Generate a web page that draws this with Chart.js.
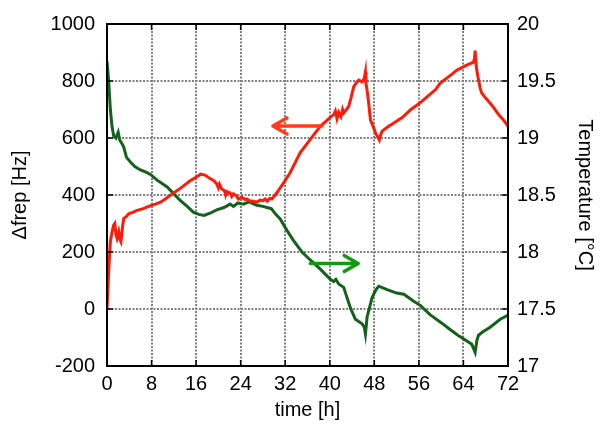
<!DOCTYPE html>
<html>
<head>
<meta charset="utf-8">
<script src="https://cdn.jsdelivr.net/npm/chart.js@4"></script>
<style>
  html, body { margin: 0; padding: 0; background: #fff; }
  #wrap { width: 602px; height: 428px; }
</style>
</head>
<body>
<div id="wrap"><canvas id="freqChart" width="602" height="428"></canvas></div>
<script>
// time [h] and frequency change [Hz] (red, left axis)
const freqTime = [0, 0.3, 0.6, 0.9, 1.2, 1.4, 1.6, 1.8, 2.1, 2.3, 2.5, 2.8, 3.0, 3.5, 3.9, 4.5, 5.4, 6.5, 7.8, 8.7, 9.6, 10.6, 11.7, 12.8, 13.8, 14.8, 15.8, 16.8, 17.6, 18.5, 19.2, 19.7, 20.0, 20.2, 20.6, 21.1, 21.3, 21.5, 22.1, 22.4, 22.7, 23.2, 23.6, 24.2, 24.8, 25.1, 25.6, 26.2, 26.9, 27.5, 28.0, 28.4, 28.8, 29.2, 29.6, 30.2, 30.8, 31.8, 32.9, 34.7, 36.5, 38.3, 39.5, 40.2, 40.7, 41.0, 41.3, 41.6, 42.0, 42.3, 42.5, 43.0, 43.4, 43.8, 44.3, 44.8, 45.2, 45.8, 46.2, 46.4, 46.5, 46.7, 47.0, 47.3, 47.8, 48.2, 48.9, 49.1, 49.4, 50.5, 51.5, 53.0, 54.5, 56.0, 57.5, 59.0, 59.8, 61.0, 62.0, 62.8, 63.8, 64.5, 65.2, 65.8, 66.0, 66.1, 66.3, 66.6, 67.0, 67.3, 68.0, 68.8, 69.5, 70.3, 71.0, 71.8, 72.0];
const freqValues = [0, 132, 236, 270, 294, 300, 262, 248, 271, 245, 236, 290, 317, 325, 334, 338, 346, 352, 363, 368, 375, 388, 404, 418, 433, 448, 460, 473, 470, 458, 450, 439, 425, 438, 421, 415, 400, 412, 407, 395, 404, 398, 386, 392, 384, 386, 380, 378, 375, 382, 380, 386, 378, 388, 386, 400, 416, 445, 479, 549, 595, 641, 662, 675, 682, 695, 668, 690, 675, 700, 688, 700, 711, 740, 780, 795, 803, 797, 810, 832, 790, 768, 720, 664, 640, 618, 593, 610, 624, 640, 653, 672, 699, 720, 745, 770, 792, 810, 825, 838, 848, 855, 861, 866, 880, 907, 850, 815, 775, 757, 740, 722, 705, 682, 668, 647, 640];

// time [h] and temperature [°C] (green, right axis)
const tempTime = [0, 0.3, 0.6, 0.9, 1.2, 1.6, 2.0, 2.3, 2.7, 3.0, 3.5, 4.2, 5.0, 6.0, 7.0, 7.8, 9.0, 10.8, 12.0, 13.2, 14.4, 15.5, 16.5, 17.4, 18.5, 19.7, 21.0, 22.1, 22.7, 23.5, 24.5, 25.5, 26.9, 28.0, 29.5, 30.3, 31.1, 32.3, 33.5, 35.0, 36.5, 38.3, 40.1, 40.7, 41.1, 41.6, 42.5, 43.7, 44.6, 45.8, 46.2, 46.4, 46.7, 47.6, 48.3, 48.8, 50.3, 52.0, 53.3, 55.0, 56.3, 58.0, 60.0, 61.6, 63.0, 64.0, 65.5, 66.1, 66.4, 66.7, 67.5, 68.8, 70.6, 71.8, 72.0];
const tempValues = [19.67, 19.5, 19.25, 19.1, 19.02, 19.0, 19.05, 18.98, 18.95, 18.92, 18.83, 18.79, 18.75, 18.72, 18.7, 18.68, 18.63, 18.57, 18.51, 18.45, 18.4, 18.35, 18.33, 18.32, 18.34, 18.37, 18.39, 18.42, 18.4, 18.43, 18.42, 18.44, 18.41, 18.4, 18.38, 18.33, 18.29, 18.19, 18.1, 18.0, 17.93, 17.85, 17.76, 17.74, 17.76, 17.72, 17.69, 17.51, 17.41, 17.37, 17.34, 17.28, 17.43, 17.6, 17.67, 17.7, 17.67, 17.64, 17.63, 17.57, 17.53, 17.45, 17.38, 17.32, 17.27, 17.24, 17.19, 17.12, 17.22, 17.27, 17.3, 17.34, 17.41, 17.44, 17.45];

// axis ticks
const timeTicks = [0, 8, 16, 24, 32, 40, 48, 56, 64, 72];
const freqTicks = [-200, 0, 200, 400, 600, 800, 1000];
const tempTicks = [17, 17.5, 18, 18.5, 19, 19.5, 20];

// arrows telling which curve belongs to which axis: [t start, t end, value]
const freqArrow = [38.6, 29.8, 642];
const tempArrow = [36.5, 45.1, 17.9];

const FONT = "'Liberation Sans', Arial, Helvetica, sans-serif";

function toPoints(xs, ys) {
  return xs.map((x, i) => ({ x: x, y: ys[i] }));
}

function drawArrow(ctx, x1, x2, y, color) {
  const dir = x2 > x1 ? 1 : -1;
  ctx.save();
  ctx.strokeStyle = color;
  ctx.lineWidth = 3.5;
  ctx.lineCap = "round";
  ctx.lineJoin = "round";
  ctx.beginPath();
  ctx.moveTo(x1, y);
  ctx.lineTo(x2, y);
  ctx.moveTo(x2 - dir * 14, y - 8);
  ctx.lineTo(x2, y);
  ctx.lineTo(x2 - dir * 14, y + 8);
  ctx.stroke();
  ctx.restore();
}

// box, inward ticks and arrows
const framePlugin = {
  id: "frame",
  afterDatasetsDraw(chart) {
    const { ctx, chartArea: a, scales } = chart;
    ctx.save();
    ctx.strokeStyle = "#000";
    ctx.lineWidth = 1.5;
    ctx.beginPath();
    timeTicks.forEach((t) => {
      const x = scales.x.getPixelForValue(t);
      ctx.moveTo(x, a.bottom); ctx.lineTo(x, a.bottom - 6);
      ctx.moveTo(x, a.top); ctx.lineTo(x, a.top + 6);
    });
    freqTicks.forEach((v) => {
      const y = scales.y.getPixelForValue(v);
      ctx.moveTo(a.left, y); ctx.lineTo(a.left + 6, y);
    });
    tempTicks.forEach((v) => {
      const y = scales.y2.getPixelForValue(v);
      ctx.moveTo(a.right, y); ctx.lineTo(a.right - 6, y);
    });
    ctx.stroke();
    ctx.lineWidth = 2;
    ctx.strokeRect(a.left, a.top, a.right - a.left, a.bottom - a.top);
    ctx.restore();

    drawArrow(ctx, scales.x.getPixelForValue(freqArrow[0]), scales.x.getPixelForValue(freqArrow[1]),
      scales.y.getPixelForValue(freqArrow[2]), "#ff3b1a");
    drawArrow(ctx, scales.x.getPixelForValue(tempArrow[0]), scales.x.getPixelForValue(tempArrow[1]),
      scales.y2.getPixelForValue(tempArrow[2]), "#119911");
  }
};

const tickFont = { family: FONT, size: 20 };
const titleFont = { family: FONT, size: 20 };
const gridStyle = { color: "#808080", lineWidth: 2, drawTicks: false };

const ctx = document.getElementById("freqChart").getContext("2d");
const freqChart = new Chart(ctx, {
  type: "line",
  data: {
    datasets: [
      {
        label: "Δfrep",
        data: toPoints(freqTime, freqValues),
        borderColor: "#ff1a0a",
        borderWidth: 3,
        pointRadius: 0,
        tension: 0,
        yAxisID: "y",
      },
      {
        label: "Temperature",
        data: toPoints(tempTime, tempValues),
        borderColor: "#12621a",
        borderWidth: 3,
        pointRadius: 0,
        tension: 0,
        yAxisID: "y2",
      },
    ],
  },
  options: {
    responsive: false,
    animation: false,
    layout: { padding: { top: 20, left: 0, right: 0, bottom: 0 } },
    plugins: { legend: { display: false }, tooltip: { enabled: false } },
    scales: {
      x: {
        type: "linear",
        min: 0,
        max: 72,
        afterBuildTicks: (s) => { s.ticks = timeTicks.map((v) => ({ value: v })); },
        afterFit: (s) => { s.height = 62; },
        ticks: { color: "#000", font: tickFont, padding: 6, maxRotation: 0, callback: (v) => String(v) },
        grid: gridStyle,
        border: { color: "#000", width: 2, dash: [2, 1.5] },
        title: { display: true, text: "time [h]", color: "#000", font: titleFont, padding: { top: 0, bottom: 6 } },
      },
      y: {
        position: "left",
        min: -200,
        max: 1000,
        afterBuildTicks: (s) => { s.ticks = freqTicks.map((v) => ({ value: v })); },
        afterFit: (s) => { s.width = 107; },
        ticks: { color: "#000", font: tickFont, padding: 12, callback: (v) => String(v) },
        grid: gridStyle,
        border: { color: "#000", width: 2, dash: [2, 1.5] },
        title: { display: true, text: "Δfrep [Hz]", color: "#000", font: titleFont, padding: { top: 8, bottom: 0 } },
      },
      y2: {
        position: "right",
        min: 17,
        max: 20,
        afterBuildTicks: (s) => { s.ticks = tempTicks.map((v) => ({ value: v })); },
        afterFit: (s) => { s.width = 94; },
        ticks: { color: "#000", font: tickFont, padding: 9, callback: (v) => String(v) },
        grid: { drawOnChartArea: false, drawTicks: false },
        border: { color: "#000", width: 2 },
        title: { display: true, text: "Temperature [°C]", color: "#000", font: titleFont, padding: { top: 5, bottom: 0 } },
      },
    },
  },
  plugins: [framePlugin],
});
</script>
</body>
</html>
